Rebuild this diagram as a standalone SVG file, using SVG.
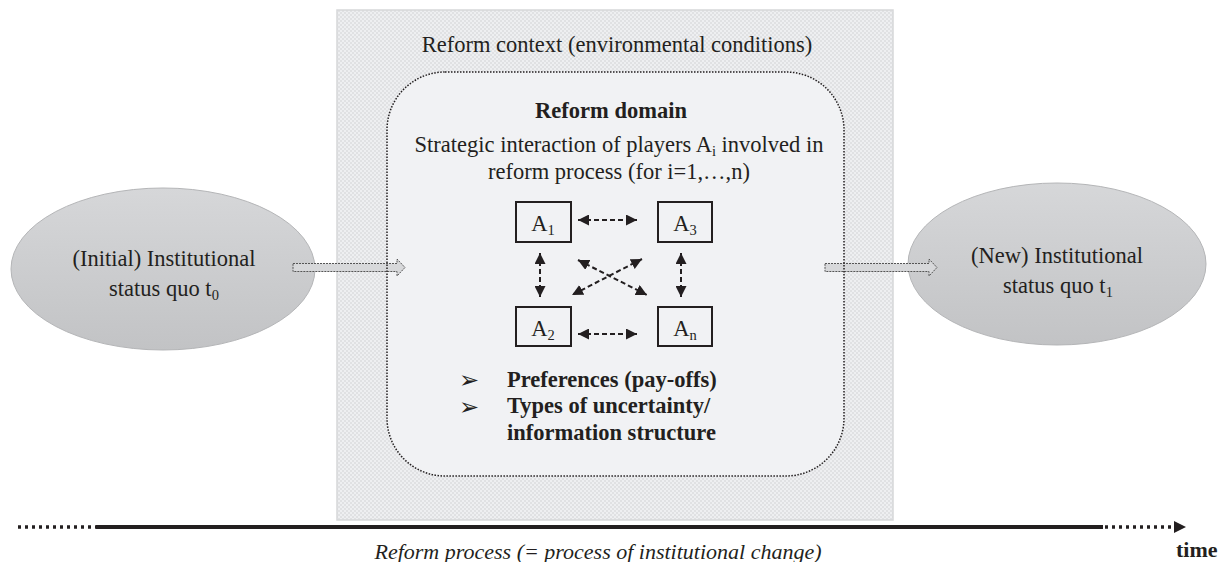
<svg xmlns="http://www.w3.org/2000/svg" width="1218" height="562" viewBox="0 0 1218 562" font-family="Liberation Serif, DejaVu Serif, serif">
<style>
  text { fill: #231f20; }
  .t20 { font-size: 22.5px; }
  .b { font-weight: bold; }
  .it { font-style: italic; }
  .sub { font-size: 14.5px; }
  .abox { fill: none; stroke: #231f20; stroke-width: 2; }
  .dash { fill: none; stroke: #231f20; stroke-width: 2; stroke-dasharray: 5 3; marker-start: url(#ah); marker-end: url(#ah); }
  .block { fill: #d7d8da; stroke: #555; stroke-width: 1; stroke-dasharray: 2 1; }
  .ell { fill: url(#eg); stroke: #b4b5b7; stroke-width: 1; }
  .bullet { font-family: "DejaVu Sans", sans-serif; font-size: 24px; }
</style>
<defs>
  <pattern id="chk" width="4" height="4" patternUnits="userSpaceOnUse">
    <rect width="4" height="4" fill="#eeeff1"/>
    <rect width="2" height="2" fill="#e0e1e3"/>
    <rect x="2" y="2" width="2" height="2" fill="#e0e1e3"/>
  </pattern>
  <linearGradient id="eg" x1="0" y1="0" x2="0" y2="1">
    <stop offset="0" stop-color="#d6d7d9"/>
    <stop offset="1" stop-color="#c2c3c5"/>
  </linearGradient>
  <marker id="ah" viewBox="0 0 10 10" refX="10" refY="5" markerWidth="11" markerHeight="11" markerUnits="userSpaceOnUse" orient="auto-start-reverse">
    <path d="M0,0 L10,5 L0,10 Z" fill="#231f20"/>
  </marker>
</defs>
<rect width="1218" height="562" fill="#ffffff"/>

<g id="reform-context">
  <rect x="337" y="10" width="556" height="510" fill="url(#chk)" stroke="#d6d7d9" stroke-width="1.5"/>
  <text class="t20" x="617" y="52" text-anchor="middle">Reform context (environmental conditions)</text>
</g>

<g id="reform-domain">
  <rect x="387" y="72" width="457" height="404" rx="58" ry="58" fill="#f1f2f4"/>
  <text class="t20 b" x="611" y="118" text-anchor="middle">Reform domain</text>
  <text class="t20" x="619" y="152" text-anchor="middle">Strategic interaction of players A<tspan class="sub" dy="4">i</tspan><tspan dy="-4"> involved in</tspan></text>
  <text class="t20" x="619" y="179" text-anchor="middle">reform process (for i=1,…,n)</text>
  <text class="bullet" x="459" y="388">➢</text>
  <text class="bullet" x="459" y="415">➢</text>
  <text class="t20 b" x="507" y="387">Preferences (pay-offs)</text>
  <text class="t20 b" x="507" y="413">Types of uncertainty/</text>
  <text class="t20 b" x="507" y="440">information structure</text>
</g>

<g id="initial-status">
  <ellipse class="ell" cx="163" cy="269" rx="152" ry="81"/>
  <text class="t20" x="164" y="266" text-anchor="middle">(Initial) Institutional</text>
  <text class="t20" x="164" y="296" text-anchor="middle">status quo t<tspan class="sub" dy="4">0</tspan></text>
</g>

<g id="new-status">
  <ellipse class="ell" cx="1057" cy="264" rx="149" ry="81"/>
  <text class="t20" x="1057" y="263" text-anchor="middle">(New) Institutional</text>
  <text class="t20" x="1058" y="293" text-anchor="middle">status quo t<tspan class="sub" dy="4">1</tspan></text>
</g>

<g id="A1"><rect class="abox" x="516" y="202" width="55" height="40"/><text class="t20" x="543" y="231" text-anchor="middle">A<tspan class="sub" dy="4">1</tspan></text></g>
<g id="A3"><rect class="abox" x="658" y="202" width="54" height="40"/><text class="t20" x="685" y="231" text-anchor="middle">A<tspan class="sub" dy="4">3</tspan></text></g>
<g id="A2"><rect class="abox" x="516" y="307" width="55" height="39"/><text class="t20" x="543" y="336" text-anchor="middle">A<tspan class="sub" dy="4">2</tspan></text></g>
<g id="An"><rect class="abox" x="658" y="307" width="54" height="39"/><text class="t20" x="685" y="336" text-anchor="middle">A<tspan class="sub" dy="4">n</tspan></text></g>

<g id="connectors">
  <path class="block" d="M293,263.5 H397 V259 L405,267.5 L397,276 V271.5 H293 Z"/>
  <path class="block" d="M825,263.5 H929 V259 L937,267.5 L929,276 V271.5 H825 Z"/>
  <path class="dash" d="M578,220 H637"/>
  <path class="dash" d="M578,334 H637"/>
  <path class="dash" d="M540,253 V297"/>
  <path class="dash" d="M681,253 V297"/>
  <path class="dash" d="M578,260 L647,295"/>
  <path class="dash" d="M642,259 L572,295"/>
  <line x1="18" y1="527" x2="96" y2="527" stroke="#231f20" stroke-width="3.5" stroke-dasharray="3 4"/>
  <line x1="96" y1="527" x2="1103" y2="527" stroke="#231f20" stroke-width="4"/>
  <line x1="1105" y1="527" x2="1175" y2="527" stroke="#231f20" stroke-width="3.5" stroke-dasharray="3 4"/>
  <path d="M1174,521 L1186,527 L1174,533 Z" fill="#231f20"/>
</g>

<rect id="reform-domain-border" x="387" y="72" width="457" height="404" rx="58" ry="58" fill="none" stroke="#231f20" stroke-width="1.5" stroke-dasharray="1.5 1.5"/>

<g id="timeline-labels">
  <text class="it" font-size="22" x="598" y="559" text-anchor="middle">Reform process (= process of institutional change)</text>
  <text class="b" font-size="22" x="1176" y="557">time</text>
</g>
</svg>
